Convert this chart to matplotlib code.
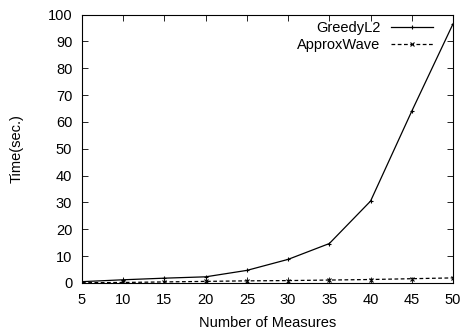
import matplotlib
matplotlib.use("Agg")
import matplotlib.pyplot as plt

measures = [5, 10, 15, 20, 25, 30, 35, 40, 45, 50]
greedy_l2 = [0.5, 1.2, 1.8, 2.3, 4.7, 8.8, 14.7, 30.5, 64.0, 96.5]
approx_wave = [0.1, 0.2, 0.4, 0.6, 0.8, 0.9, 1.1, 1.3, 1.6, 1.9]
xticks = [5, 10, 15, 20, 25, 30, 35, 40, 45, 50]
yticks = [0, 10, 20, 30, 40, 50, 60, 70, 80, 90, 100]

plt.rcParams['font.family'] = ['Liberation Sans', 'DejaVu Sans']
fs = 10.5
fig = plt.figure(figsize=(4.64, 3.35), dpi=100)
ax = fig.add_axes([82/464, 1-283/335, (453-82)/464, (283-14.5)/335])

ax.plot(measures, greedy_l2, color='black', lw=0.9, marker='+', ms=3.5, mew=0.8, label='GreedyL2')
ax.plot(measures, approx_wave, color='black', lw=0.9, ls=(0, (3, 2)), marker='x', ms=3, mew=0.8, label='ApproxWave')

ax.set_xlim(5, 50)
ax.set_ylim(0, 100)
ax.set_xticks(xticks)
ax.set_yticks(yticks)
ax.tick_params(direction='in', top=True, right=True, labelsize=fs, length=4, width=0.6, pad=7)
for s in ax.spines.values():
    s.set_linewidth(0.8)
ax.set_xlabel('Number of Measures', fontsize=fs, labelpad=7)
ax.set_ylabel('Time(sec.)', fontsize=fs, labelpad=17)
leg = ax.legend(loc='upper right', bbox_to_anchor=(0.962, 0.997), frameon=False, markerfirst=False,
                fontsize=fs, handlelength=2.9, borderaxespad=0, labelspacing=0.2, handletextpad=0.7)
fig.savefig('out.png', dpi=100)
